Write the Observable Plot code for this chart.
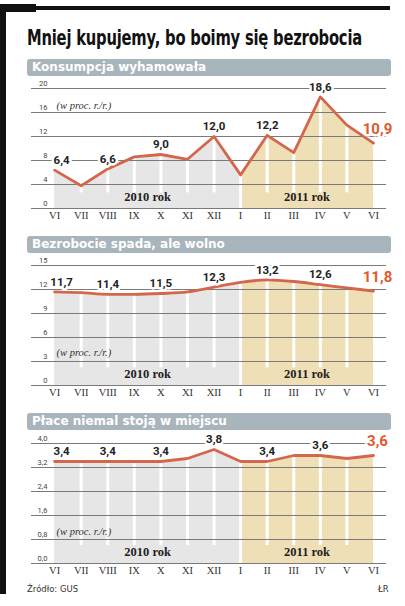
<!DOCTYPE html>
<html>
<head>
<meta charset="utf-8">
<script src="https://cdn.jsdelivr.net/npm/d3@7"></script>
<script src="https://cdn.jsdelivr.net/npm/@observablehq/plot@0.6"></script>
<style>
  body { margin: 0; background: #fff; }
  #root { position: relative; width: 405px; height: 606px; overflow: hidden; background: #fff; font-family: "DejaVu Sans", sans-serif; }
  .abs { position: absolute; }
  .bar { position: absolute; left: 27px; width: 364px; height: 17px; background: #a9b5bc; border-radius: 3px;
         color: #fff; font: bold 12px "DejaVu Sans", sans-serif; line-height: 17px; padding-left: 5px; box-sizing: border-box; }
  .chart { position: absolute; left: 0; }
  #title { left: 27px; top: 26px; font: bold 21px "DejaVu Sans", sans-serif; color: #111; white-space: nowrap;
           transform-origin: 0 0; letter-spacing: -0.3px; }
</style>
</head>
<body>
<div id="root">
  <div class="abs" style="left:0;top:4px;width:36px;height:8px;background:#111"></div>
  <div class="abs" style="left:36px;top:6px;width:354px;height:4px;background:#111"></div>
  <div class="abs" style="left:0;top:4px;width:6px;height:590px;background:#111"></div>
  <div class="abs" id="title">Mniej kupujemy, bo boimy się bezrobocia</div>
  <div class="bar" style="top:59px">Konsumpcja wyhamowała</div>
  <div class="chart" id="c1" style="top:78px"></div>
  <div class="bar" style="top:236px">Bezrobocie spada, ale wolno</div>
  <div class="chart" id="c2" style="top:255px"></div>
  <div class="bar" style="top:413px">Płace niemal stoją w miejscu</div>
  <div class="chart" id="c3" style="top:433px"></div>
  <div class="abs" style="left:27px;top:584px;font:8.5px 'DejaVu Sans',sans-serif;color:#333">Źródło: GUS</div>
  <div class="abs" style="left:378px;top:584px;font:8.5px 'DejaVu Sans',sans-serif;color:#333">ŁR</div>
</div>
<script>
const months = ["VI", "VII", "VIII", "IX", "X", "XI", "XII", "I", "II", "III", "IV", "V", "VI"];
const yearIndex = [0, 0, 0, 0, 0, 0, 0, 1, 1, 1, 1, 1, 1];
const years = ["2010 rok", "2011 rok"];

const consumption = [6.4, 3.8, 6.6, 8.6, 9.0, 8.2, 12.0, 5.6, 12.2, 9.3, 18.6, 13.9, 10.9];
const unemployment = [11.7, 11.6, 11.4, 11.4, 11.5, 11.7, 12.3, 12.9, 13.2, 13.0, 12.6, 12.2, 11.8];
const wages = [3.4, 3.4, 3.4, 3.4, 3.4, 3.5, 3.8, 3.4, 3.4, 3.6, 3.6, 3.5, 3.6];

const labelled = [2, 4, 6, 8, 10]; // months with a value label; first and last are drawn apart

const consumptionTicks = [0, 4, 8, 12, 16, 20];
const unemploymentTicks = [0, 3, 6, 9, 12, 15];
const wagesTicks = [0, 0.8, 1.6, 2.4, 3.2, 4.0];

const comma = (digits) => (v) => v.toFixed(digits).replace(".", ",");

// squeeze the title to the width it has in the print
const title = document.getElementById("title");
title.style.transform = `scaleX(${335 / title.getBoundingClientRect().width})`;

function chart({values, ticks, tickFormat, valueFormat, curve, sepBottom, noteDy}) {
  const data = values.map((v, i) => ({i, v, year: yearIndex[i]}));
  const first = data[0];
  const last = data[data.length - 1];
  const split = yearIndex.indexOf(1);
  const spans = years.map((label, y) => {
    const idx = data.filter((d) => d.year === y).map((d) => d.i);
    const hi = y === 0 ? split : idx[idx.length - 1];
    return {label, x: (idx[0] + hi) / 2};
  });
  const lineColor = "#d4674b";
  const font = "Roboto, sans-serif";
  const valueStyle = {fontSize: 11.5, fontWeight: "bold", fill: "#222", stroke: "white", strokeWidth: 5, fontFamily: font};
  return Plot.plot({
    width: 405,
    height: 145,
    marginLeft: 31,
    marginRight: 19,
    marginTop: 10,
    marginBottom: 15,
    style: {fontFamily: font, background: "transparent"},
    x: {type: "linear", domain: [-0.87, 12.49]},
    y: {domain: [ticks[0], ticks[ticks.length - 1]]},
    marks: [
      Plot.areaY(data.filter((d) => d.i <= split), {x: "i", y: "v", fill: "#e6e6e6", curve}),
      Plot.areaY(data.filter((d) => d.i >= split), {x: "i", y: "v", fill: "#efdfb6", curve}),
      Plot.ruleX(data.filter((d) => d.i > 0 && d.i < data.length - 1), {
        x: "i",
        y1: (d) => (d.i === split ? ticks[0] : sepBottom),
        y2: "v",
        stroke: "white",
        strokeWidth: 3
      }),
      Plot.gridY(ticks, {stroke: "#7a7a7a", strokeOpacity: 1, strokeWidth: 1}),
      Plot.lineY(data, {x: "i", y: "v", stroke: lineColor, strokeWidth: 2.8, curve}),
      Plot.text(data.filter((d) => labelled.includes(d.i)), {
        x: "i", y: "v", text: (d) => valueFormat(d.v), dy: -10, ...valueStyle
      }),
      Plot.text([first], {
        x: "i", y: "v", text: (d) => valueFormat(d.v), dx: 7, dy: -10, ...valueStyle
      }),
      Plot.text([last], {
        x: "i", y: "v", text: (d) => valueFormat(d.v), dx: 4, dy: -14,
        fontSize: 15, fontWeight: "bold", fill: "#e05a30", stroke: "white", strokeWidth: 5, fontFamily: font
      }),
      Plot.text(spans, {
        x: "x", text: "label", frameAnchor: "bottom", dy: -8,
        fontSize: 12.5, fontWeight: "bold", fill: "#222", fontFamily: "Liberation Serif, serif"
      }),
      Plot.text(["(w proc. r./r.)"], {
        frameAnchor: "top-left", dx: 25, dy: noteDy, textAnchor: "start",
        fontSize: 10.5, fontStyle: "italic", fill: "#333", fontFamily: "Liberation Serif, serif"
      }),
      Plot.axisY(ticks, {
        anchor: "left", label: null, tickSize: 0, tickPadding: 0, textAnchor: "end", dx: 16, dy: -5,
        tickFormat, fontSize: 7.5, fill: "#444"
      }),
      Plot.axisX(data.map((d) => d.i), {
        anchor: "bottom", label: null, tickSize: 0, tickPadding: 3, tickFormat: (i) => months[i],
        fontSize: 10.5, fill: "#333", fontFamily: "Liberation Serif, serif"
      })
    ]
  });
}

document.getElementById("c1").append(chart({
  values: consumption, ticks: consumptionTicks, tickFormat: (v) => String(v),
  valueFormat: comma(1), curve: "linear", sepBottom: 2.6, noteDy: 13
}));
document.getElementById("c2").append(chart({
  values: unemployment, ticks: unemploymentTicks, tickFormat: (v) => String(v),
  valueFormat: comma(1), curve: "monotone-x", sepBottom: 2.2, noteDy: 83
}));
document.getElementById("c3").append(chart({
  values: wages, ticks: wagesTicks, tickFormat: comma(1),
  valueFormat: comma(1), curve: "linear", sepBottom: 0.6, noteDy: 84
}));
</script>
</body>
</html>
